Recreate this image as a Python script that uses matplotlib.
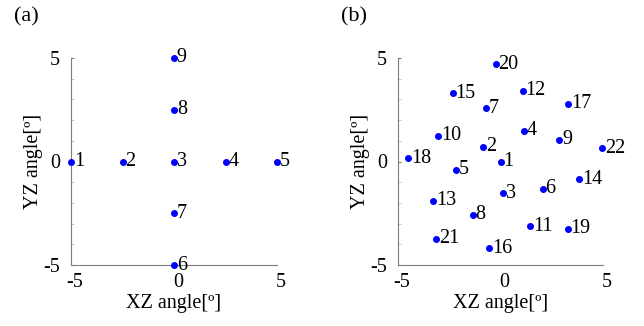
import matplotlib
matplotlib.use('Agg')
import matplotlib.pyplot as plt
import matplotlib.transforms as mtransforms

plt.rcParams['font.family'] = ['Liberation Serif', 'DejaVu Serif']
plt.rcParams['axes.unicode_minus'] = False

# panel (a): cross-shaped grid of 9 directions
a_labels = ['1', '2', '3', '4', '5', '6', '7', '8', '9']
a_x = [-5, -2.5, 0, 2.5, 5, 0, 0, 0, 0]
a_y = [0, 0, 0, 0, 0, -5, -2.5, 2.5, 5]

# panel (b): 22 scattered directions
b_labels = [str(i) for i in range(1, 23)]
b_x = [0.0, -0.85, 0.12, 1.14, -2.16, 2.05, -0.72, -1.35, 2.86, -3.04, 1.45,
       1.08, -3.28, 3.85, -2.34, -0.54, 3.31, -4.51, 3.27, -0.23, -3.15, 4.97]
b_y = [0.0, 0.72, -1.53, 1.48, -0.40, -1.32, 2.57, -2.57, 1.05, 1.24, -3.12,
       3.42, -1.90, -0.85, 3.30, -4.18, 2.78, 0.16, -3.26, 4.71, -3.73, 0.64]

W, H = 644, 326
fig = plt.figure(figsize=(W / 100, H / 100), dpi=100)


def make_axes(left, right, letter):
    ax = fig.add_axes([left / W, 1 - 265 / H, (right - left) / W, (265 - 58) / H])
    ax.set_xlim(-5, 5)
    ax.set_ylim(-5, 5)
    for s in ['top', 'right']:
        ax.spines[s].set_visible(False)
    for s in ['left', 'bottom']:
        ax.spines[s].set_color('#7f7f7f')
        ax.spines[s].set_linewidth(0.8)
    ax.set_xticks([-5, 0, 5])
    ax.set_yticks([-5, 0, 5])
    ax.set_yticks(range(-5, 6), minor=True)
    ax.tick_params(axis='x', length=0, pad=6, labelsize=14.5)
    ax.tick_params(axis='y', which='major', length=2, direction='in',
                   color='#7f7f7f', pad=8, labelsize=14.5)
    ax.tick_params(axis='y', which='minor', length=2, direction='in',
                   color='#bfbfbf')
    # MATLAB export puts the x tick labels a few pixels right of the ticks
    shift = mtransforms.ScaledTranslation(4 / 100, 0, fig.dpi_scale_trans)
    for lab in ax.get_xticklabels():
        lab.set_transform(lab.get_transform() + shift)
    ax.set_xlabel('XZ angle[º]', fontsize=14.5, labelpad=1)
    ax.set_ylabel('YZ angle[º]', fontsize=14.5, labelpad=0)
    fig.text((left - 57) / W, 1 - 17 / H, letter, fontsize=16,
             ha='left', va='center')
    return ax


def draw_points(ax, xs, ys, labels):
    ax.scatter(xs, ys, s=16, color='#0000ff', zorder=3, clip_on=False)
    for x, y, t in zip(xs, ys, labels):
        ax.annotate(t, (x, y), xytext=(2, 0), textcoords='offset points',
                    ha='left', va='center', fontsize=14.5)


ax1 = make_axes(71, 277, '(a)')
draw_points(ax1, a_x, a_y, a_labels)

ax2 = make_axes(398, 603, '(b)')
draw_points(ax2, b_x, b_y, b_labels)

fig.savefig('out.png', dpi=100)
